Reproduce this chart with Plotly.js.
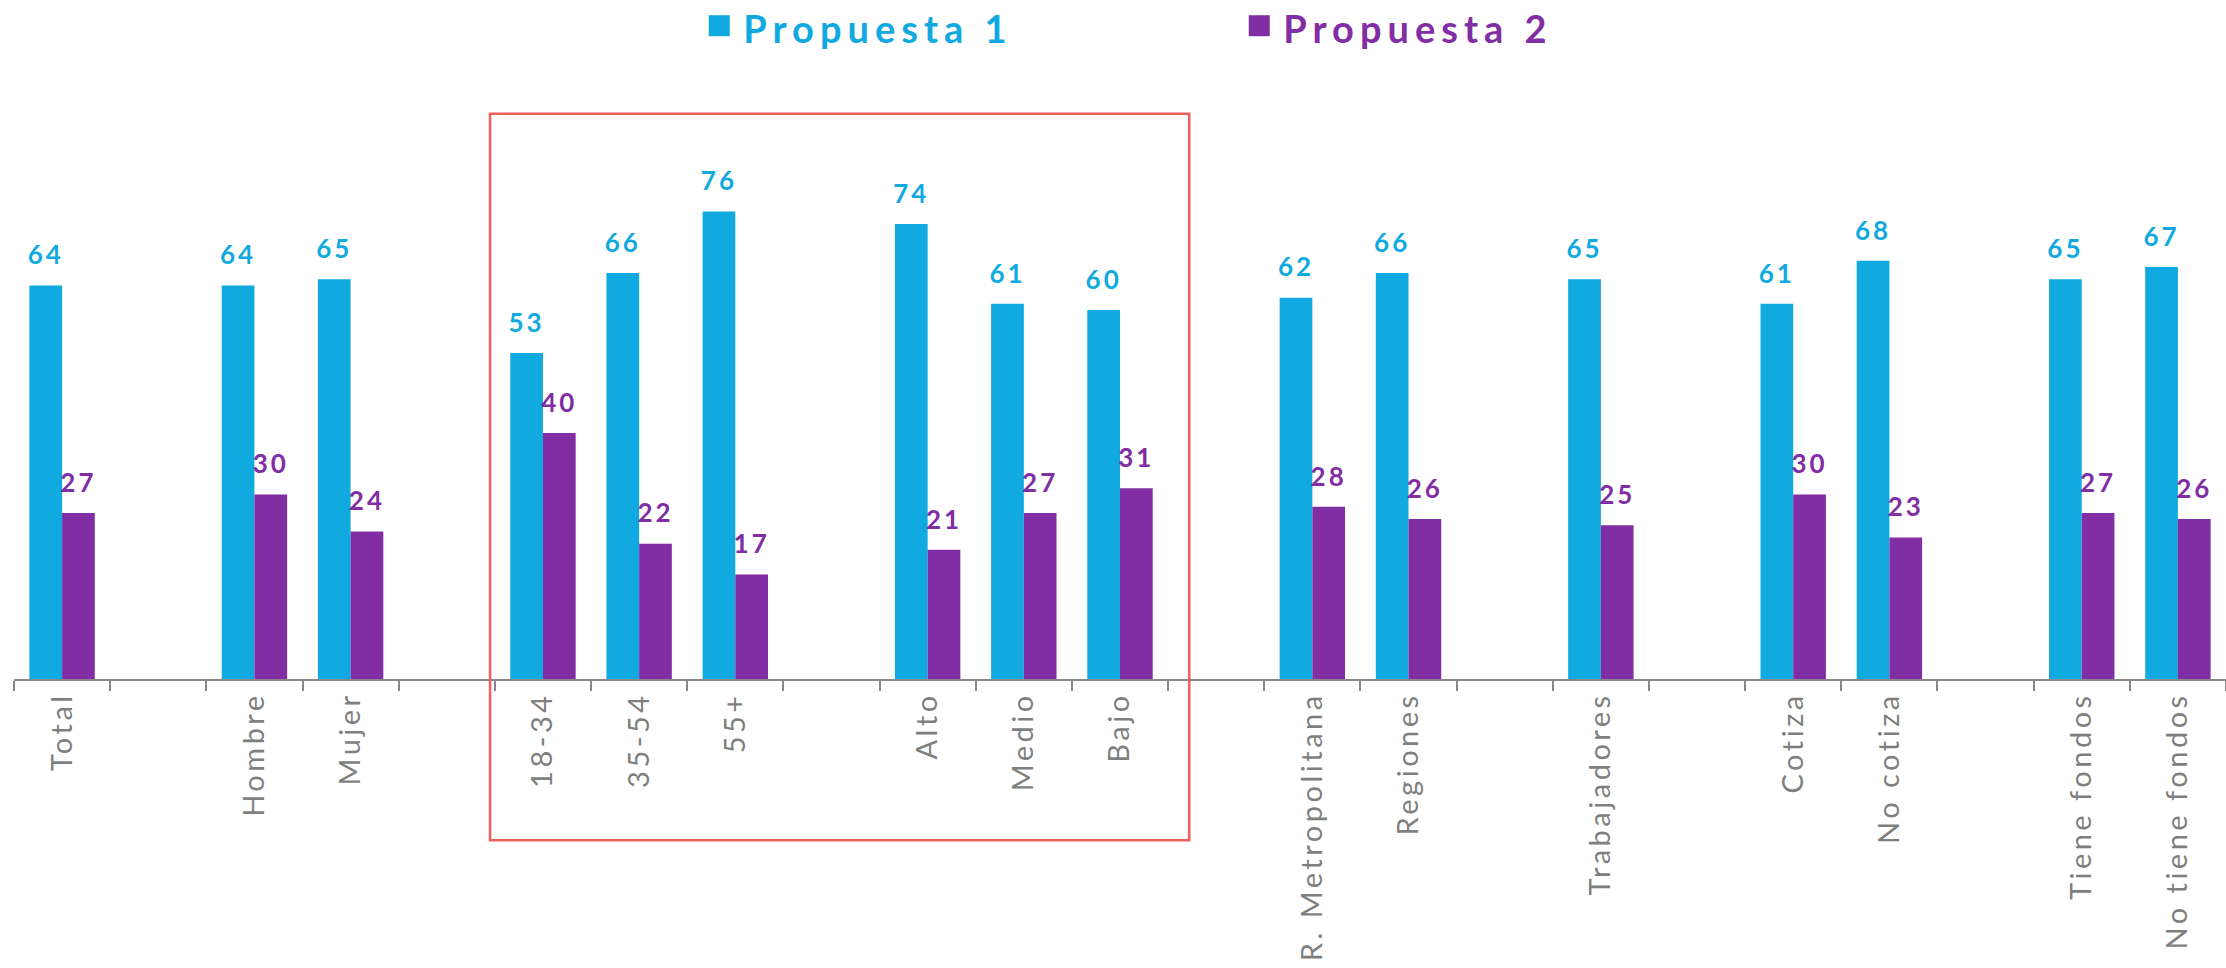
<!DOCTYPE html>
<html>
<head>
<meta charset="utf-8">
<script src="https://cdn.plot.ly/plotly-3.0.1.min.js"></script>
<style>
  html, body { margin: 0; padding: 0; background: #fff; }
  #chart { width: 2226px; height: 968px; }
  /* the original labels are spaced out */
  #chart .xtick text { letter-spacing: 3.5px; }
  #chart .textpoint text { letter-spacing: 3px; }
  #chart .legendtext { letter-spacing: 6px; }
  #chart .legend .scrollbox { clip-path: none !important; }
  #chart .legendpoints path { transform: translate(16px, -2px) scale(1.75); }
</style>
</head>
<body>
<div id="chart"></div>
<script>
// blank groups are separate categories made of spaces so they stay unique
const categories = [
  'Total', ' ', 'Hombre', 'Mujer', '  ',
  '18-34', '35-54', '55+', '   ', 'Alto', 'Medio', 'Bajo', '    ',
  'R. Metropolitana', 'Regiones', '     ', 'Trabajadores', '      ',
  'Cotiza', 'No cotiza', '       ', 'Tiene fondos', 'No tiene fondos'
];

const propuesta1 = [
  64, null, 64, 65, null,
  53, 66, 76, null, 74, 61, 60, null,
  62, 66, null, 65, null,
  61, 68, null, 65, 67
];

const propuesta2 = [
  27, null, 30, 24, null,
  40, 22, 17, null, 21, 27, 31, null,
  28, 26, null, 25, null,
  30, 23, null, 27, 26
];

const BLUE = '#10a9e0';
const PURPLE = '#812da4';

function labelsFor(values) {
  return values.map((v) => (v === null ? '' : String(v)));
}

function barTrace(name, values, color, group) {
  return {
    type: 'bar',
    name: `<span style="color:${color}"><b>${name}</b></span>`,
    x: categories,
    y: values,
    offsetgroup: group,
    marker: { color: color, line: { width: 0 } },
    hoverinfo: 'x+y',
  };
}

// value labels sit a bit above the bars, like the original
function labelTrace(values, color, group) {
  return {
    type: 'scatter',
    mode: 'markers+text',
    x: categories,
    y: values,
    offsetgroup: group,
    text: labelsFor(values),
    textposition: 'top center',
    cliponaxis: false,
    marker: { size: 22, opacity: 0 },
    textfont: { family: 'Lato, sans-serif', size: 26, color: color, weight: 'bold' },
    showlegend: false,
    hoverinfo: 'skip',
  };
}

const traces = [
  barTrace('Propuesta 1', propuesta1, BLUE, 'p1'),
  barTrace('Propuesta 2', propuesta2, PURPLE, 'p2'),
  labelTrace(propuesta1, BLUE, 'p1'),
  labelTrace(propuesta2, PURPLE, 'p2'),
];

const layout = {
  width: 2226,
  height: 968,
  margin: { l: 14, r: 0, t: 64, b: 289, autoexpand: false },
  paper_bgcolor: '#fff',
  plot_bgcolor: '#fff',
  barmode: 'group',
  bargap: 0.32,
  bargroupgap: 0,
  scattermode: 'group',
  scattergap: 0.32,
  font: { family: 'Lato, sans-serif' },
  showlegend: true,
  legend: {
    orientation: 'h',
    x: 0.3116,
    xanchor: 'left',
    y: 1.0585,
    yanchor: 'middle',
    font: { size: 38, family: 'Lato, sans-serif' },
    entrywidth: 495,
    itemwidth: 30,
  },
  xaxis: {
    type: 'category',
    tickson: 'boundaries',
    ticks: 'outside',
    ticklen: 10,
    tickwidth: 1.5,
    tickcolor: '#888',
    showline: true,
    linecolor: '#888',
    linewidth: 1.5,
    tickangle: -90,
    tickfont: { size: 29, color: '#7f7f7f', family: 'Lato, sans-serif' },
    showgrid: false,
    zeroline: false,
    fixedrange: true,
  },
  yaxis: {
    range: [0, 100],
    visible: false,
    showgrid: false,
    zeroline: false,
    fixedrange: true,
  },
  shapes: [
    {
      type: 'rect',
      xref: 'x',
      yref: 'paper',
      x0: 4.45,
      x1: 11.72,
      y0: -0.262,
      y1: 0.919,
      line: { color: '#f0605a', width: 2.5 },
      fillcolor: 'rgba(0,0,0,0)',
    },
  ],
};

Plotly.newPlot('chart', traces, layout, { displayModeBar: false, responsive: false });
</script>
</body>
</html>
